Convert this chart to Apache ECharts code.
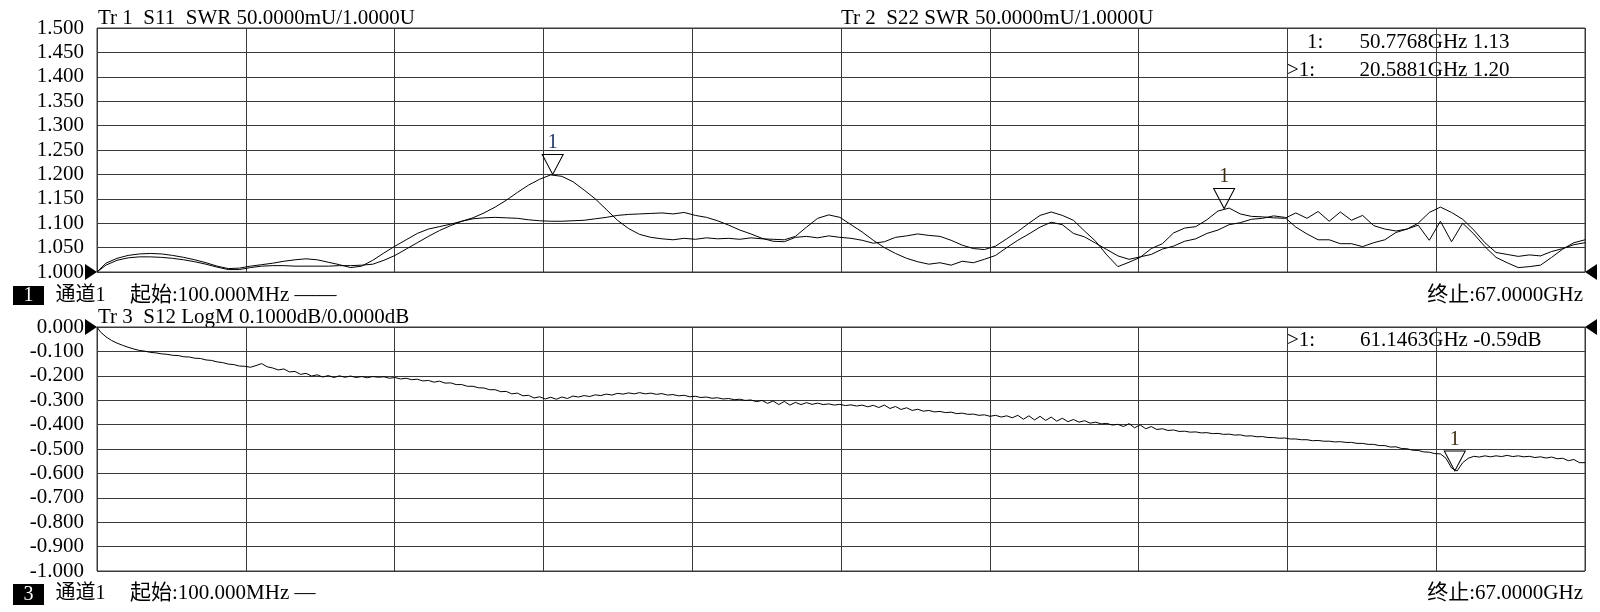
<!DOCTYPE html>
<html><head><meta charset="utf-8">
<script src="https://cdn.jsdelivr.net/npm/echarts@6/dist/echarts.min.js"></script>
<style>html,body{margin:0;padding:0;background:#fff}#c{width:1600px;height:612px}</style>
</head><body><div id="c"></div><script>
// Sweep frequencies (GHz) for the SWR traces
const freqs = [0.1,0.5,1,1.5,2,2.5,3,3.5,4,4.5,5,5.5,6,6.5,7,7.5,8,8.5,9,9.5,10,10.5,11,11.5,12,12.5,13,13.5,14,14.5,15,15.5,16,16.5,17,17.5,18,18.5,19,19.5,20,20.5,21,21.5,22,22.5,23,23.5,24,24.5,25,25.5,26,26.5,27,27.5,28,28.5,29,29.5,30,30.5,31,31.5,32,32.5,33,33.5,34,34.5,35,35.5,36,36.5,37,37.5,38,38.5,39,39.5,40,40.5,41,41.5,42,42.5,43,43.5,44,44.5,45,45.5,46,46.5,47,47.5,48,48.5,49,49.5,50,50.5,51,51.5,52,52.5,53,53.5,54,54.5,55,55.5,56,56.5,57,57.5,58,58.5,59,59.5,60,60.5,61,61.5,62,62.5,63,63.5,64,64.5,65,65.5,66,66.5,67];
// Tr1 S11 SWR
const s11 = [1.000,1.014,1.024,1.029,1.031,1.031,1.030,1.028,1.025,1.021,1.016,1.010,1.005,1.005,1.009,1.012,1.013,1.013,1.012,1.012,1.012,1.012,1.013,1.013,1.014,1.016,1.024,1.034,1.047,1.060,1.073,1.085,1.095,1.104,1.111,1.121,1.133,1.147,1.163,1.178,1.190,1.199,1.196,1.185,1.168,1.150,1.128,1.106,1.089,1.077,1.071,1.068,1.066,1.069,1.067,1.070,1.068,1.069,1.067,1.070,1.068,1.067,1.066,1.073,1.092,1.110,1.117,1.112,1.097,1.082,1.065,1.050,1.038,1.028,1.021,1.016,1.019,1.014,1.022,1.019,1.026,1.034,1.050,1.065,1.078,1.092,1.102,1.097,1.079,1.072,1.059,1.046,1.033,1.026,1.031,1.036,1.047,1.053,1.063,1.068,1.079,1.086,1.097,1.101,1.108,1.110,1.115,1.112,1.092,1.078,1.066,1.066,1.058,1.058,1.052,1.060,1.066,1.081,1.088,1.096,1.065,1.104,1.062,1.100,1.078,1.052,1.030,1.019,1.009,1.011,1.014,1.030,1.047,1.060,1.066];
// Tr2 S22 SWR
const s22 = [1.000,1.018,1.028,1.034,1.037,1.038,1.037,1.034,1.030,1.025,1.019,1.012,1.007,1.008,1.012,1.015,1.018,1.022,1.025,1.027,1.025,1.020,1.015,1.009,1.012,1.024,1.039,1.053,1.066,1.079,1.088,1.093,1.098,1.104,1.109,1.111,1.112,1.111,1.110,1.107,1.105,1.104,1.104,1.105,1.106,1.109,1.112,1.116,1.118,1.119,1.120,1.121,1.119,1.122,1.116,1.112,1.105,1.096,1.086,1.078,1.069,1.063,1.062,1.071,1.073,1.070,1.074,1.071,1.069,1.065,1.059,1.062,1.071,1.074,1.078,1.075,1.073,1.065,1.055,1.048,1.046,1.053,1.068,1.083,1.100,1.116,1.123,1.116,1.106,1.084,1.063,1.035,1.011,1.020,1.030,1.048,1.058,1.080,1.090,1.093,1.107,1.125,1.131,1.119,1.114,1.113,1.111,1.110,1.121,1.110,1.124,1.104,1.123,1.106,1.116,1.095,1.088,1.084,1.088,1.100,1.122,1.133,1.122,1.108,1.086,1.060,1.040,1.036,1.032,1.035,1.033,1.042,1.048,1.056,1.060];
// Sweep frequencies (GHz) for the S12 trace
const freqs3 = [0.1,0.25,0.5,0.75,1,1.25,1.5,1.75,2,2.25,2.5,2.75,3,3.25,3.5,3.75,4,4.25,4.5,4.75,5,5.25,5.5,5.75,6,6.25,6.5,6.75,7,7.25,7.5,7.75,8,8.25,8.5,8.75,9,9.25,9.5,9.75,10,10.25,10.5,10.75,11,11.25,11.5,11.75,12,12.25,12.5,12.75,13,13.25,13.5,13.75,14,14.25,14.5,14.75,15,15.25,15.5,15.75,16,16.25,16.5,16.75,17,17.25,17.5,17.75,18,18.25,18.5,18.75,19,19.25,19.5,19.75,20,20.25,20.5,20.75,21,21.25,21.5,21.75,22,22.25,22.5,22.75,23,23.25,23.5,23.75,24,24.25,24.5,24.75,25,25.25,25.5,25.75,26,26.25,26.5,26.75,27,27.25,27.5,27.75,28,28.25,28.5,28.75,29,29.25,29.5,29.75,30,30.25,30.5,30.75,31,31.25,31.5,31.75,32,32.25,32.5,32.75,33,33.25,33.5,33.75,34,34.25,34.5,34.75,35,35.25,35.5,35.75,36,36.25,36.5,36.75,37,37.25,37.5,37.75,38,38.25,38.5,38.75,39,39.25,39.5,39.75,40,40.25,40.5,40.75,41,41.25,41.5,41.75,42,42.25,42.5,42.75,43,43.25,43.5,43.75,44,44.25,44.5,44.75,45,45.25,45.5,45.75,46,46.25,46.5,46.75,47,47.25,47.5,47.75,48,48.25,48.5,48.75,49,49.25,49.5,49.75,50,50.25,50.5,50.75,51,51.25,51.5,51.75,52,52.25,52.5,52.75,53,53.25,53.5,53.75,54,54.25,54.5,54.75,55,55.25,55.5,55.75,56,56.25,56.5,56.75,57,57.25,57.5,57.75,58,58.25,58.5,58.75,59,59.25,59.5,59.75,60,60.25,60.5,60.75,61,61.25,61.5,61.75,62,62.25,62.5,62.75,63,63.25,63.5,63.75,64,64.25,64.5,64.75,65,65.25,65.5,65.75,66,66.25,66.5,66.75,67];
// Tr3 S12 LogM (dB)
const s12 = [0.000,-0.020,-0.040,-0.055,-0.066,-0.075,-0.083,-0.090,-0.096,-0.099,-0.104,-0.106,-0.110,-0.112,-0.116,-0.117,-0.122,-0.123,-0.128,-0.129,-0.135,-0.137,-0.143,-0.146,-0.152,-0.154,-0.160,-0.161,-0.165,-0.158,-0.150,-0.163,-0.168,-0.176,-0.172,-0.184,-0.182,-0.194,-0.190,-0.201,-0.196,-0.205,-0.199,-0.207,-0.200,-0.206,-0.201,-0.207,-0.203,-0.208,-0.203,-0.206,-0.204,-0.210,-0.207,-0.213,-0.210,-0.216,-0.214,-0.221,-0.219,-0.226,-0.222,-0.230,-0.229,-0.236,-0.236,-0.243,-0.243,-0.249,-0.250,-0.257,-0.257,-0.265,-0.264,-0.274,-0.271,-0.282,-0.280,-0.291,-0.286,-0.295,-0.288,-0.296,-0.287,-0.293,-0.283,-0.287,-0.281,-0.285,-0.278,-0.281,-0.275,-0.279,-0.272,-0.275,-0.270,-0.274,-0.269,-0.274,-0.271,-0.276,-0.273,-0.279,-0.277,-0.282,-0.280,-0.286,-0.284,-0.289,-0.287,-0.292,-0.290,-0.295,-0.293,-0.298,-0.296,-0.301,-0.299,-0.306,-0.301,-0.313,-0.303,-0.318,-0.305,-0.320,-0.309,-0.318,-0.310,-0.317,-0.312,-0.318,-0.315,-0.320,-0.317,-0.322,-0.319,-0.324,-0.320,-0.327,-0.321,-0.330,-0.320,-0.334,-0.326,-0.338,-0.331,-0.342,-0.337,-0.345,-0.342,-0.348,-0.346,-0.351,-0.349,-0.355,-0.353,-0.358,-0.357,-0.362,-0.360,-0.366,-0.362,-0.369,-0.364,-0.372,-0.362,-0.378,-0.364,-0.381,-0.366,-0.383,-0.369,-0.386,-0.374,-0.388,-0.379,-0.390,-0.384,-0.394,-0.390,-0.397,-0.395,-0.402,-0.399,-0.408,-0.396,-0.413,-0.401,-0.417,-0.408,-0.420,-0.417,-0.424,-0.422,-0.428,-0.427,-0.431,-0.430,-0.434,-0.433,-0.437,-0.436,-0.440,-0.439,-0.443,-0.442,-0.447,-0.446,-0.450,-0.449,-0.453,-0.453,-0.456,-0.455,-0.459,-0.459,-0.462,-0.462,-0.466,-0.465,-0.468,-0.468,-0.471,-0.470,-0.473,-0.473,-0.477,-0.477,-0.481,-0.481,-0.486,-0.486,-0.492,-0.491,-0.498,-0.499,-0.505,-0.506,-0.512,-0.513,-0.519,-0.520,-0.538,-0.578,-0.590,-0.556,-0.538,-0.530,-0.533,-0.528,-0.532,-0.528,-0.531,-0.526,-0.531,-0.528,-0.532,-0.530,-0.535,-0.532,-0.537,-0.533,-0.540,-0.538,-0.548,-0.543,-0.556,-0.556];
// Markers [freq GHz, value]
const mkS11 = [20.5881, 1.20];
const mkS22 = [50.7768, 1.13];
const mkS12 = [61.1463, -0.59];
// Axis ranges / ticks
const topY = {min: 1.0, max: 1.5, step: 0.05};
const botY = {min: -1.0, max: 0.0, step: 0.1};
const sweep = {start: 0.1, stop: 67, div: 6.69};
// Texts
const hdr1 = 'Tr 1  S11  SWR 50.0000mU/1.0000U';
const hdr2 = 'Tr 2  S22 SWR 50.0000mU/1.0000U';
const hdr3 = 'Tr 3  S12 LogM 0.1000dB/0.0000dB';
const rd1a = ['1:', '50.7768GHz 1.13'];
const rd1b = ['>1:', '20.5881GHz 1.20'];
const rd3 = ['>1:', '61.1463GHz -0.59dB'];
const startTxt1 = '起始:100.000MHz ——';
const startTxt3 = '起始:100.000MHz —';
const stopTxt = '终止:67.0000GHz';
const chanTxt = '通道1';

const FONT = "'Liberation Serif','Noto Sans CJK SC',serif";
const FS = 21;
const GC = '#3a3a3a';
const pairs = (f, v) => f.map((x, i) => [x, v[i]]);

const refR = 'path://M0,0L12,8L0,16Z';
const refL = 'path://M12,0L0,8L12,16Z';
const downTri = 'path://M0,0L20,0L10,20Z';

function refMarks(yv) {
  return [
    {coord: [sweep.start, yv], symbol: refR, symbolSize: [12, 16], symbolOffset: [-6, 0], itemStyle: {color: '#000'}, label: {show: false}},
    {coord: [sweep.stop, yv], symbol: refL, symbolSize: [12, 16], symbolOffset: [6, 0], itemStyle: {color: '#000'}, label: {show: false}}
  ];
}
function dataMark(c, col) {
  return {coord: c, symbol: downTri, symbolSize: [21, 20], symbolOffset: [0, -10],
    itemStyle: {color: 'rgba(0,0,0,0)', borderColor: '#000', borderWidth: 1},
    label: {show: true, position: 'top', distance: 1, formatter: '1', color: col, fontSize: 20, fontFamily: FONT}};
}
function xAx(i) {
  return {type: 'value', gridIndex: i, min: sweep.start, max: sweep.stop, interval: sweep.div,
    axisLabel: {show: false}, axisTick: {show: false}, axisLine: {show: false},
    splitLine: {show: true, lineStyle: {color: GC, width: 1}}};
}
function yAx(i, r) {
  return {type: 'value', gridIndex: i, min: r.min, max: r.max, interval: r.step,
    axisLabel: {formatter: v => v.toFixed(3), fontFamily: FONT, fontSize: FS, color: '#000', margin: 13},
    axisTick: {show: false}, axisLine: {show: false},
    splitLine: {show: true, lineStyle: {color: GC, width: 1}}};
}
function txt(t, x, y, align, color, size) {
  return {type: 'text', silent: true, style: {text: t, x: x, y: y, font: (size || FS) + 'px ' + FONT, fill: color || '#000', align: align || 'left', verticalAlign: 'middle'}};
}
function box(label, y, h) {
  return [
    {type: 'rect', silent: true, shape: {x: 13, y: y, width: 31, height: h}, style: {fill: '#000'}},
    txt(label, 28.5, y + h / 2, 'center', '#fff', 20)
  ];
}
const lineStyle = {color: '#000', width: 1};
const chart = echarts.init(document.getElementById('c'));
chart.setOption({
  animation: false,
  backgroundColor: '#fff',
  grid: [
    {left: 97, right: 15, top: 28, height: 244, show: true, borderColor: GC, borderWidth: 1},
    {left: 97, right: 15, top: 327, height: 244, show: true, borderColor: GC, borderWidth: 1}
  ],
  xAxis: [xAx(0), xAx(1)],
  yAxis: [yAx(0, topY), yAx(1, botY)],
  series: [
    {name: 'S22', type: 'line', xAxisIndex: 0, yAxisIndex: 0, data: pairs(freqs, s22), showSymbol: false, lineStyle: lineStyle,
      markPoint: {data: [dataMark(mkS22, '#3a2a10')]}},
    {name: 'S11', type: 'line', xAxisIndex: 0, yAxisIndex: 0, data: pairs(freqs, s11), showSymbol: false, lineStyle: lineStyle,
      markPoint: {data: [dataMark(mkS11, '#1f3566')].concat(refMarks(topY.min))}},
    {name: 'S12', type: 'line', xAxisIndex: 1, yAxisIndex: 1, data: pairs(freqs3, s12), showSymbol: false, lineStyle: lineStyle,
      markPoint: {data: [dataMark(mkS12, '#3a2a10')].concat(refMarks(botY.max))}}
  ],
  graphic: [
    txt(hdr1, 98, 18),
    txt(hdr2, 841, 18),
    txt(rd1a[0], 1307, 42.5), txt(rd1a[1], 1359.5, 42.5),
    txt(rd1b[0], 1287, 70), txt(rd1b[1], 1359.5, 70),
    txt(hdr3, 98, 317),
    txt(rd3[0], 1287, 340), txt(rd3[1], 1360, 340),
    ...box('1', 286, 19),
    txt(chanTxt, 55.5, 295.5, 'left', '#000', 20), txt(startTxt1, 130, 295.5), txt(stopTxt, 1583, 295.5, 'right'),
    ...box('3', 584, 21),
    txt(chanTxt, 55.5, 594, 'left', '#000', 20), txt(startTxt3, 130, 593.5), txt(stopTxt, 1583, 593.5, 'right')
  ]
});
</script></body></html>
